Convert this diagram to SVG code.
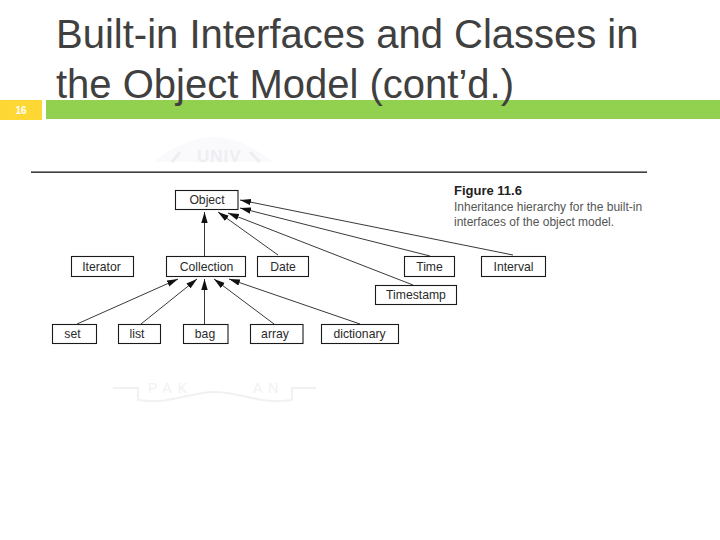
<svg xmlns="http://www.w3.org/2000/svg" width="720" height="540" viewBox="0 0 720 540">
<style>
text{font-family:"Liberation Sans",Arial,sans-serif}
.title{font-size:40px;fill:#404040}
.box{fill:#fff;stroke:#1a1a1a;stroke-width:1.1}
.lbl{font-size:12.2px;fill:#2a2a2a;text-anchor:middle}
.cap{font-size:12px;fill:#555}
.edge{stroke:#222;stroke-width:0.9;fill:none;marker-end:url(#ah)}
.wm{font-size:14px;fill:#f1f1f4}
.wmb{font-size:17px;font-weight:bold;fill:#eeeef2}
</style>
<defs>
<marker id="ah" markerUnits="userSpaceOnUse" markerWidth="12" markerHeight="8" refX="11" refY="4" orient="auto"><path d="M0 0.8L11 4L0 7.2Z" fill="#111"/></marker>
</defs>
<rect width="720" height="540" fill="#fff"/>
<g id="watermark">
<path d="M153 162C175 145 195 137 213 137C232 137 252 145 273 162Z" fill="#fafafc"/>
<path d="M172 162L180 152M260 162L250 152" stroke="#eeeef2" stroke-width="3" fill="none"/>
<text class="wmb" x="197" y="162" letter-spacing="1">UNIV</text>
<text class="wm" x="148" y="393" letter-spacing="6">PAK</text>
<text class="wm" x="253" y="393" letter-spacing="6">AN</text>
<path d="M113 388H138V400C170 405 190 392 215 392C240 392 260 405 292 400V388H316" fill="none" stroke="#f1f1f4" stroke-width="2"/>
</g>
<g id="header">
<rect x="0" y="100" width="42" height="20" fill="#fdd835"/>
<rect x="46" y="100" width="674" height="19" fill="#92d050"/>
<text x="21" y="114" fill="#fff" text-anchor="middle" style="font-size:10px;font-weight:bold">16</text>
<text class="title" x="56" y="48">Built-in Interfaces and Classes in</text>
<text class="title" x="56" y="98">the Object Model (cont’d.)</text>
<rect x="31" y="171.500" width="616" height="1.300" fill="#111"/>
</g>
<g id="connectors">
<path class="edge" d="M204.500 256V212"/>
<path class="edge" d="M278 255L218 212"/>
<path class="edge" d="M413 285L228 213"/>
<path class="edge" d="M430 256L240 208"/>
<path class="edge" d="M513 255L240 200"/>
<path class="edge" d="M77 324L178 279"/>
<path class="edge" d="M141 324L197 279"/>
<path class="edge" d="M204.500 324V279"/>
<path class="edge" d="M274 324L214 279"/>
<path class="edge" d="M360 324L229 279"/>
</g>
<g id="object"><rect class="box" x="175.500" y="190.500" width="62.500" height="19"/><text class="lbl" x="207" y="204">Object</text></g>
<g id="iterator"><rect class="box" x="71.500" y="256.500" width="62" height="20"/><text class="lbl" x="101.500" y="270.500">Iterator</text></g>
<g id="collection"><rect class="box" x="166.500" y="256.500" width="79" height="20"/><text class="lbl" x="206.500" y="270.500">Collection</text></g>
<g id="date"><rect class="box" x="257.500" y="256.500" width="51" height="20"/><text class="lbl" x="283" y="270.500">Date</text></g>
<g id="time"><rect class="box" x="404.500" y="256.500" width="50" height="20"/><text class="lbl" x="429.500" y="270.500">Time</text></g>
<g id="interval"><rect class="box" x="481.500" y="256.500" width="64" height="20"/><text class="lbl" x="513.500" y="270.500">Interval</text></g>
<g id="timestamp"><rect class="box" x="375.500" y="285.500" width="81" height="19"/><text class="lbl" x="416" y="299">Timestamp</text></g>
<g id="set"><rect class="box" x="52.500" y="324.500" width="44" height="19"/><text class="lbl" x="72.500" y="338">set</text></g>
<g id="list"><rect class="box" x="118.500" y="324.500" width="42" height="19"/><text class="lbl" x="137" y="338">list</text></g>
<g id="bag"><rect class="box" x="183.500" y="324.500" width="44.500" height="19"/><text class="lbl" x="205" y="338">bag</text></g>
<g id="array"><rect class="box" x="250.500" y="324.500" width="52.500" height="19"/><text class="lbl" x="275" y="338">array</text></g>
<g id="dictionary"><rect class="box" x="321.500" y="324.500" width="77" height="19"/><text class="lbl" x="359.500" y="338">dictionary</text></g>
<g id="caption">
<text x="454" y="195" style="font-size:13px;font-weight:bold;fill:#222">Figure 11.6</text>
<text class="cap" x="454" y="211">Inheritance hierarchy for the built-in</text>
<text class="cap" x="454" y="225.500">interfaces of the object model.</text>
</g>
</svg>
